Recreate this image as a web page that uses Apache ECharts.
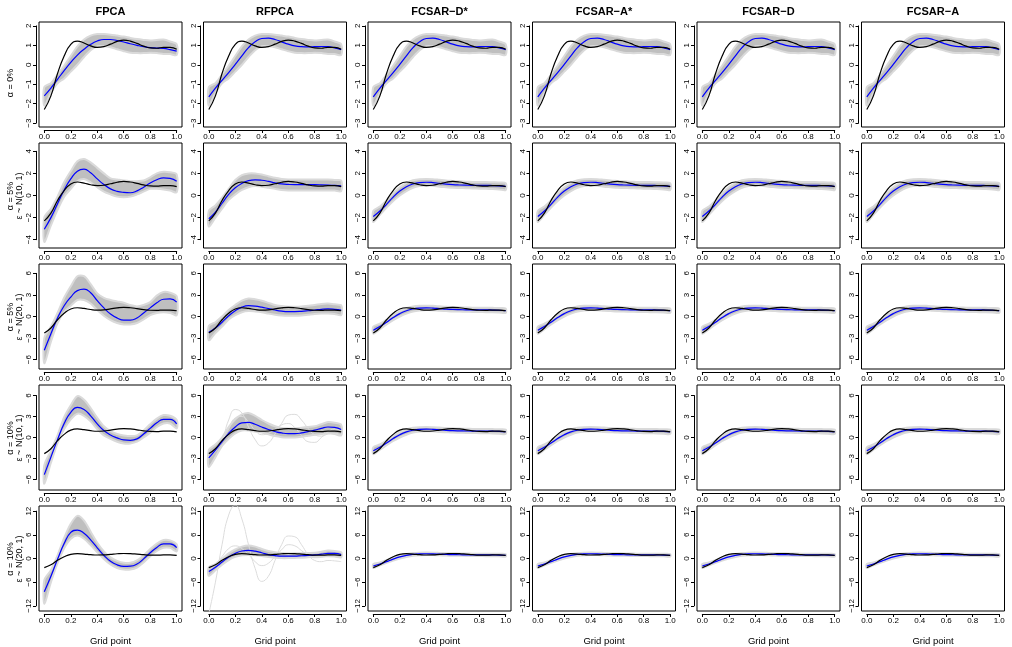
<!DOCTYPE html>
<html>
<head>
<meta charset="utf-8">
<script src="https://cdn.jsdelivr.net/npm/echarts@6/dist/echarts.min.js"></script>
<style>
    html, body { margin: 0; padding: 0; background: #fff; }
    #chart { width: 1012px; height: 647px; }
</style>
</head>
<body>
<div id="chart"></div>
<script>
    var gridX = [0, 0.05, 0.1, 0.15, 0.2, 0.25, 0.3, 0.35, 0.4, 0.45, 0.5, 0.55, 0.6, 0.65, 0.7, 0.75, 0.8, 0.85, 0.9, 0.95, 1];

    // true function (black), same in every panel
    var truth = [-2.3, -1.6, -0.45, 0.45, 1.05, 1.22, 1.12, 0.97, 0.89, 0.93, 1.06, 1.2, 1.27, 1.22, 1.1, 0.96, 0.87, 0.85, 0.9, 0.9, 0.8];

    // row 1 (alpha = 0%)
    var fpcaMean1 = [-1.6, -1.2, -0.75, -0.3, 0.12, 0.5, 0.8, 1.05, 1.22, 1.3, 1.3, 1.25, 1.17, 1.08, 1.0, 0.93, 0.88, 0.86, 0.84, 0.78, 0.7];
    var otherMean1 = [-1.65, -1.2, -0.8, -0.4, 0.02, 0.46, 0.88, 1.18, 1.35, 1.37, 1.3, 1.18, 1.06, 0.97, 0.93, 0.92, 0.93, 0.94, 0.93, 0.87, 0.78];
    var bandLo1 = [-2.1, -1.45, -0.95, -0.7, -0.35, 0.0, 0.4, 0.75, 0.95, 0.95, 0.9, 0.8, 0.7, 0.62, 0.6, 0.6, 0.62, 0.6, 0.56, 0.55, 0.5];
    var bandHi1 = [-1.15, -0.95, -0.5, -0.05, 0.45, 0.95, 1.3, 1.5, 1.58, 1.58, 1.55, 1.5, 1.45, 1.38, 1.32, 1.28, 1.25, 1.28, 1.3, 1.2, 1.05];

    // FPCA, rows 2-5
    var fpcaMean2 = [-3.05, -2.0, -0.75, 0.5, 1.5, 2.2, 2.38, 2.05, 1.5, 1.0, 0.6, 0.38, 0.28, 0.25, 0.42, 0.75, 1.13, 1.42, 1.6, 1.55, 1.28];
    var fpcaLo2 = [-4.2, -2.7, -1.3, -0.1, 0.6, 1.3, 1.5, 1.2, 0.75, 0.35, 0.1, -0.1, -0.15, -0.1, 0.1, 0.35, 0.6, 0.6, 0.55, 0.45, 0.3];
    var fpcaHi2 = [-2.0, -1.2, -0.1, 1.2, 2.2, 3.1, 3.3, 3.0, 2.5, 2.0, 1.55, 1.45, 1.35, 1.3, 1.3, 1.35, 1.65, 2.0, 2.15, 2.1, 1.9];
    var fpcaMean3 = [-4.7, -2.4, -0.2, 1.5, 2.7, 3.6, 3.8, 3.3, 2.2, 1.2, 0.35, -0.2, -0.5, -0.5, -0.2, 0.5, 1.2, 1.9, 2.4, 2.45, 2.0];
    var fpcaLo3 = [-6.5, -3.5, -0.9, 0.6, 1.5, 2.3, 2.3, 1.8, 0.9, 0.1, -0.5, -0.9, -1.1, -1.1, -0.9, -0.4, 0.2, 0.5, 0.6, 0.5, 0.2];
    var fpcaHi3 = [-3.0, -1.4, 0.5, 2.6, 4.2, 5.6, 5.6, 4.5, 3.2, 2.6, 2.3, 2.1, 1.9, 1.6, 1.4, 1.6, 2.0, 2.9, 3.4, 3.3, 2.8];
    var fpcaMean4 = [-5.3, -2.8, -0.3, 2.0, 3.6, 4.3, 4.0, 3.1, 1.95, 1.0, 0.35, -0.05, -0.35, -0.4, -0.2, 0.5, 1.3, 2.1, 2.6, 2.6, 1.95];
    var fpcaLo4 = [-6.6, -3.6, -0.8, 1.2, 2.6, 3.4, 3.1, 2.3, 1.2, 0.3, -0.2, -0.6, -0.85, -0.85, -0.6, 0.0, 0.7, 1.5, 2.0, 2.0, 1.3];
    var fpcaHi4 = [-4.0, -1.9, 0.3, 2.9, 4.6, 5.9, 5.4, 4.2, 2.8, 1.6, 0.9, 0.5, 0.3, 0.2, 0.3, 1.0, 1.9, 2.7, 3.2, 3.1, 2.5];
    var fpcaMean5 = [-8.4, -4.5, -0.2, 3.8, 6.6, 7.2, 6.4, 4.7, 2.7, 0.8, -0.7, -1.6, -2.0, -1.95, -1.4, -0.1, 1.45, 2.8, 3.7, 3.7, 2.75];
    var fpcaLo5 = [-11.5, -6.0, -1.2, 2.6, 5.0, 5.8, 5.0, 3.4, 1.6, -0.1, -1.5, -2.4, -2.8, -2.8, -2.3, -1.0, 0.6, 1.9, 2.7, 2.7, 1.8];
    var fpcaHi5 = [-5.5, -3.0, 0.8, 5.2, 8.8, 10.8, 9.6, 6.8, 4.0, 1.8, 0.3, -0.6, -1.1, -1.1, -0.5, 0.8, 2.4, 3.8, 4.7, 4.6, 3.6];

    // RFPCA, rows 2-5
    var rfpcaMean2 = [-2.1, -1.5, -0.7, 0.1, 0.7, 1.1, 1.35, 1.42, 1.38, 1.28, 1.15, 1.05, 1.0, 0.98, 0.98, 0.98, 0.98, 0.97, 0.95, 0.92, 0.88];
    var rfpcaLo2 = [-2.8, -2.0, -1.2, -0.4, 0.1, 0.5, 0.75, 0.85, 0.8, 0.7, 0.6, 0.5, 0.45, 0.45, 0.45, 0.45, 0.45, 0.45, 0.45, 0.45, 0.4];
    var rfpcaHi2 = [-1.4, -0.9, -0.2, 0.6, 1.4, 1.85, 2.0, 2.0, 1.9, 1.75, 1.6, 1.5, 1.45, 1.45, 1.45, 1.45, 1.45, 1.45, 1.45, 1.4, 1.35];
    var rfpcaMean3 = [-2.2, -1.6, -0.8, 0.1, 0.8, 1.3, 1.5, 1.45, 1.3, 1.1, 0.9, 0.75, 0.68, 0.68, 0.72, 0.8, 0.9, 1.0, 1.05, 1.0, 0.9];
    var rfpcaLo3 = [-3.3, -2.3, -1.4, -0.4, 0.2, 0.6, 0.75, 0.7, 0.6, 0.4, 0.25, 0.15, 0.1, 0.1, 0.15, 0.25, 0.35, 0.4, 0.4, 0.35, 0.2];
    var rfpcaHi3 = [-1.3, -0.8, 0.0, 0.9, 1.6, 2.2, 2.5, 2.4, 2.2, 1.9, 1.6, 1.45, 1.35, 1.35, 1.4, 1.5, 1.6, 1.75, 1.8, 1.7, 1.55];
    var rfpcaMean4 = [-2.9, -1.8, -0.6, 0.6, 1.5, 2.1, 2.15, 1.9, 1.5, 1.15, 0.86, 0.65, 0.55, 0.55, 0.65, 0.85, 1.05, 1.3, 1.5, 1.45, 1.15];
    var rfpcaLo4 = [-4.2, -2.8, -1.2, -0.2, 0.6, 1.0, 1.0, 0.85, 0.7, 0.45, 0.2, 0.05, 0.0, 0.0, 0.1, 0.25, 0.4, 0.5, 0.6, 0.5, 0.3];
    var rfpcaHi4 = [-1.8, -1.0, 0.0, 1.5, 2.6, 3.3, 3.5, 3.1, 2.5, 2.0, 1.6, 1.35, 1.3, 1.3, 1.4, 1.5, 1.6, 1.9, 2.2, 2.1, 1.8];
    var rfpcaOut4a = [-3.0, -2.0, -0.5, 2.5, 4.0, 3.5, 1.5, -0.3, -1.2, -0.8, 0.5, 2.0, 3.2, 3.3, 2.5, 1.3, 0.4, 0.2, 0.5, 0.6, 0.4];
    var rfpcaOut4b = [-2.5, -1.6, -0.4, 1.2, 2.8, 3.0, 2.2, 1.0, 0.4, 0.6, 1.2, 1.8, 2.0, 1.4, 0.3, -0.6, -0.7, 0.0, 0.8, 1.2, 1.0];
    var rfpcaMean5 = [-3.3, -2.2, -0.9, 0.4, 1.3, 1.9, 2.05, 1.85, 1.45, 1.0, 0.75, 0.6, 0.6, 0.6, 0.7, 0.8, 0.9, 1.1, 1.3, 1.3, 1.0];
    var rfpcaLo5 = [-4.4, -3.0, -1.6, -0.4, 0.4, 0.8, 0.9, 0.8, 0.6, 0.35, 0.2, 0.1, 0.1, 0.15, 0.2, 0.3, 0.4, 0.5, 0.6, 0.5, 0.3];
    var rfpcaHi5 = [-2.2, -1.4, -0.1, 1.3, 2.3, 3.0, 3.3, 3.0, 2.4, 1.9, 1.6, 1.4, 1.3, 1.3, 1.35, 1.4, 1.45, 1.7, 2.0, 1.9, 1.6];
    var rfpcaOut5a = [-14, -6, 3.5, 11, 13.5, 10, 3.5, -2.5, -5.8, -4.5, -0.5, 3.5, 5.7, 5.5, 3.5, 1.0, -0.5, -0.8, -0.5, -0.6, -0.8];
    var rfpcaOut5b = [-3.0, -1.5, 0.5, 2.5, 3.2, 2.5, 1.0, -0.8, -1.8, -1.2, 0.5, 2.2, 3.5, 3.2, 2.0, 0.8, 0.2, 0.3, 0.6, 0.8, 0.9];

    // FCSAR variants, rows 2-5 (visually the same in all four columns)
    var fcsarMean = [-1.9, -1.4, -0.8, -0.15, 0.4, 0.8, 1.05, 1.17, 1.2, 1.17, 1.1, 1.03, 0.98, 0.95, 0.93, 0.92, 0.92, 0.92, 0.9, 0.87, 0.82];
    var fcsarLo = [-2.4, -1.75, -1.1, -0.5, 0.0, 0.4, 0.7, 0.85, 0.9, 0.88, 0.8, 0.75, 0.7, 0.68, 0.66, 0.64, 0.62, 0.6, 0.58, 0.55, 0.5];
    var fcsarHi = [-1.4, -1.0, -0.45, 0.2, 0.75, 1.15, 1.38, 1.48, 1.5, 1.48, 1.42, 1.36, 1.32, 1.28, 1.25, 1.23, 1.22, 1.22, 1.2, 1.18, 1.12];

    var methods = ['FPCA', 'RFPCA', 'FCSAR\u2212D*', 'FCSAR\u2212A*', 'FCSAR\u2212D', 'FCSAR\u2212A'];
    var rowLabels = [
        ['\u03b1 = 0%'],
        ['\u03b1 = 5%', '\u03b5 ~ N(10, 1)'],
        ['\u03b1 = 5%', '\u03b5 ~ N(20, 1)'],
        ['\u03b1 = 10%', '\u03b5 ~ N(10, 1)'],
        ['\u03b1 = 10%', '\u03b5 ~ N(20, 1)']
    ];
    // y tick labels per row: first, last, step
    var yTicks = [[-3, 2, 1], [-4, 4, 2], [-6, 6, 3], [-6, 6, 3], [-12, 12, 6]];

    var fcsar = {mean: fcsarMean, lo: fcsarLo, hi: fcsarHi, out: []};
    var row1 = {mean: otherMean1, lo: bandLo1, hi: bandHi1, out: []};
    var panels = [
        [{mean: fpcaMean1, lo: bandLo1, hi: bandHi1, out: []}, row1, row1, row1, row1, row1],
        [{mean: fpcaMean2, lo: fpcaLo2, hi: fpcaHi2, out: []}, {mean: rfpcaMean2, lo: rfpcaLo2, hi: rfpcaHi2, out: []}, fcsar, fcsar, fcsar, fcsar],
        [{mean: fpcaMean3, lo: fpcaLo3, hi: fpcaHi3, out: []}, {mean: rfpcaMean3, lo: rfpcaLo3, hi: rfpcaHi3, out: []}, fcsar, fcsar, fcsar, fcsar],
        [{mean: fpcaMean4, lo: fpcaLo4, hi: fpcaHi4, out: []}, {mean: rfpcaMean4, lo: rfpcaLo4, hi: rfpcaHi4, out: [rfpcaOut4a, rfpcaOut4b]}, fcsar, fcsar, fcsar, fcsar],
        [{mean: fpcaMean5, lo: fpcaLo5, hi: fpcaHi5, out: []}, {mean: rfpcaMean5, lo: rfpcaLo5, hi: rfpcaHi5, out: [rfpcaOut5a, rfpcaOut5b]}, fcsar, fcsar, fcsar, fcsar]
    ];

    // layout (pixels)
    var yRange = [[-3.2, 2.2], [-4.75, 4.75], [-7.3, 7.3], [-7.5, 7.5], [-13.3, 13.3]];
    var colLeft = [39, 203.5, 368, 532.5, 697, 861.5];
    var rowTop = [22, 143, 264, 385, 506];
    var boxW = 143, boxH = 105;
    var font = '"Liberation Sans", Arial, Helvetica, sans-serif';

    function pairs(ys) {
        return gridX.map(function (x, i) { return [x, ys[i]]; });
    }
    function fmt(v) {
        return String(v).replace('-', '\u2212');
    }
    function makeBand(lo, hi) {
        return function (params, api) {
            var pts = [];
            for (var i = 0; i < gridX.length; i++) pts.push(api.coord([gridX[i], lo[i]]));
            for (var j = gridX.length - 1; j >= 0; j--) pts.push(api.coord([gridX[j], hi[j]]));
            return {
                type: 'polygon',
                shape: {points: pts, smooth: 0.3},
                style: {fill: '#bfbfbf', stroke: '#dadada', lineWidth: 2}
            };
        };
    }

    var grids = [], xAxes = [], yAxes = [], series = [], graphics = [];
    var axisGrids = [], axisX = [], axisY = [];

    for (var r = 0; r < 5; r++) {
        var ymin = yRange[r][0], ymax = yRange[r][1];
        var t0 = yTicks[r][0], t1 = yTicks[r][1], step = yTicks[r][2];
        for (var c = 0; c < 6; c++) {
            var k = r * 6 + c;
            var L = colLeft[c], T = rowTop[r];
            grids.push({left: L, top: T, width: boxW, height: boxH, show: true,
                borderColor: '#000', borderWidth: 1, backgroundColor: 'transparent'});
            xAxes.push({gridIndex: k, type: 'value', min: -0.04, max: 1.04, show: false});
            yAxes.push({gridIndex: k, type: 'value', min: ymin, max: ymax, show: false});

            // a second grid spanning only the tick range, for R-like axes
            var padX = boxW * 0.04 / 1.08;
            var ih = boxH * (t1 - t0) / (ymax - ymin);
            var it = T + boxH * (ymax - t1) / (ymax - ymin);
            var below = boxH * (t0 - ymin) / (ymax - ymin);
            axisGrids.push({left: L + padX, top: it, width: boxW / 1.08, height: ih});
            var xa = {
                gridIndex: 30 + k, type: 'value', min: 0, max: 1, interval: 0.2,
                position: 'bottom', offset: below + 3,
                axisLine: {show: true, onZero: false, lineStyle: {color: '#000', width: 1}},
                axisTick: {show: true, length: 3, lineStyle: {color: '#000'}},
                splitLine: {show: false},
                axisLabel: {fontSize: 8, color: '#000', fontFamily: font, margin: 3,
                    showMinLabel: true, showMaxLabel: true, hideOverlap: false,
                    formatter: function (v) { return v.toFixed(1); }}
            };
            if (r === 4) {
                xa.name = 'Grid point';
                xa.nameLocation = 'middle';
                xa.nameGap = 22;
                xa.nameTextStyle = {fontSize: 9.5, color: '#000', fontFamily: font};
            }
            axisX.push(xa);
            axisY.push({
                gridIndex: 30 + k, type: 'value', min: t0, max: t1, interval: step,
                position: 'left', offset: padX + 3,
                axisLine: {show: true, onZero: false, lineStyle: {color: '#000', width: 1}},
                axisTick: {show: true, length: 3, lineStyle: {color: '#000'}},
                splitLine: {show: false},
                axisLabel: {fontSize: 8, color: '#000', fontFamily: font, margin: 3, rotate: 90,
                    showMinLabel: true, showMaxLabel: true, hideOverlap: false, formatter: fmt}
            });

            var p = panels[r][c];
            series.push({type: 'custom', xAxisIndex: k, yAxisIndex: k, clip: true, silent: true,
                data: [0], renderItem: makeBand(p.lo, p.hi), z: 1});
            p.out.forEach(function (o) {
                series.push({type: 'line', xAxisIndex: k, yAxisIndex: k, data: pairs(o), smooth: true,
                    showSymbol: false, silent: true, z: 2, lineStyle: {color: '#dcdcdc', width: 1}});
            });
            series.push({type: 'line', xAxisIndex: k, yAxisIndex: k, data: pairs(p.mean), smooth: true,
                showSymbol: false, silent: true, z: 3, lineStyle: {color: '#0000ff', width: 1.2}});
            series.push({type: 'line', xAxisIndex: k, yAxisIndex: k, data: pairs(truth), smooth: true,
                showSymbol: false, silent: true, z: 4, lineStyle: {color: '#000', width: 1.2}});
        }
    }

    // column titles
    methods.forEach(function (m, c) {
        graphics.push({type: 'text', x: colLeft[c] + boxW / 2, y: 12,
            style: {text: m, font: 'bold 11px ' + font, fill: '#000', textAlign: 'center', textVerticalAlign: 'middle'}});
    });
    // row labels, rotated
    var labelCenter = [83, 196, 317, 438, 559];
    rowLabels.forEach(function (lines, r) {
        lines.forEach(function (t, i) {
            graphics.push({type: 'text', x: 11 + i * 9, y: labelCenter[r], rotation: Math.PI / 2,
                style: {text: t, font: '9px ' + font, fill: '#000', textAlign: 'center', textVerticalAlign: 'middle'}});
        });
    });

    var chart = echarts.init(document.getElementById('chart'));
    chart.setOption({
        animation: false,
        backgroundColor: '#fff',
        grid: grids.concat(axisGrids),
        xAxis: xAxes.concat(axisX),
        yAxis: yAxes.concat(axisY),
        series: series,
        graphic: graphics
    });
</script>
</body>
</html>
